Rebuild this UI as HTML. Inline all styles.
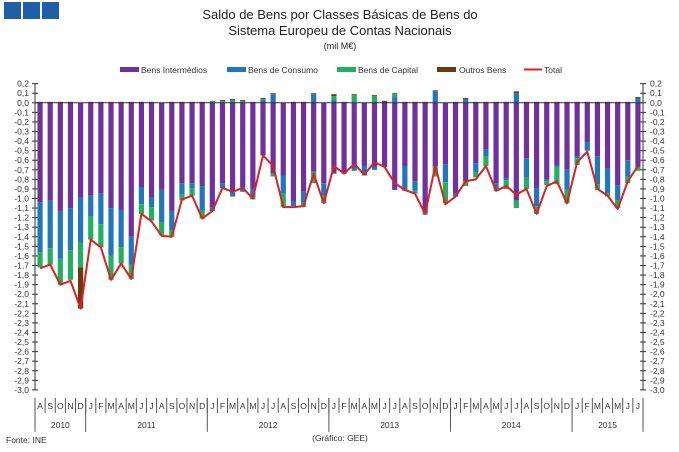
<!DOCTYPE html>
<html><head><meta charset="utf-8"><style>
body{margin:0;background:#fff;}
svg{display:block;font-family:"Liberation Sans",sans-serif;}
</style></head><body>
<svg id="c" width="679" height="452" viewBox="0 0 679 452" xmlns="http://www.w3.org/2000/svg">
<rect x="4" y="2" width="17" height="17" fill="#1f5fa8"/>
<rect x="23" y="2" width="17" height="17" fill="#1f5fa8"/>
<rect x="42" y="2" width="17" height="17" fill="#1f5fa8"/>
<text x="340" y="19" text-anchor="middle" font-size="13" fill="#222">Saldo de Bens por Classes Básicas de Bens do</text>
<text x="340" y="35" text-anchor="middle" font-size="13" fill="#222">Sistema Europeu de Contas Nacionais</text>
<text x="340" y="49" text-anchor="middle" font-size="9" fill="#222">(mil M€)</text>
<g id="legend" font-size="8.5" fill="#333">
<rect x="120" y="67" width="19" height="5" fill="#7030a0"/>
<text x="141" y="73">Bens Intermédios</text>
<rect x="227" y="67" width="19" height="5" fill="#1f77c0"/>
<text x="248" y="73">Bens de Consumo</text>
<rect x="337" y="67" width="19" height="5" fill="#20b060"/>
<text x="358" y="73">Bens de Capital</text>
<rect x="437" y="67" width="19" height="5" fill="#6b3a10"/>
<text x="459" y="73">Outros Bens</text>
<line x1="524" y1="69.5" x2="542" y2="69.5" stroke="#e02020" stroke-width="2"/>
<text x="544" y="73">Total</text>
</g>
<text x="6" y="443" font-size="8.5" fill="#333">Fonte: INE</text>
<text x="340" y="441" text-anchor="middle" font-size="8.5" fill="#333">(Gráfico: GEE)</text>
</svg>
<script>
const months=["A","S","O","N","D","J","F","M","A","M","J","J","A","S","O","N","D","J","F","M","A","M","J","J","A","S","O","N","D","J","F","M","A","M","J","J","A","S","O","N","D","J","F","M","A","M","J","J","A","S","O","N","D","J","F","M","A","M","J","J"];
const years=[["2010",5],["2011",12],["2012",12],["2013",12],["2014",12],["2015",7]];
const intermedios=[-1.04,-1.02,-1.13,-1.10,-0.99,-0.97,-0.95,-1.10,-1.12,-1.40,-0.88,-0.99,-0.91,-1.13,-0.84,-0.84,-0.87,-1.09,-0.84,-0.93,-0.88,-0.90,-0.55,-0.74,-0.76,-1.03,-0.93,-0.72,-0.84,-0.74,-0.74,-0.67,-0.66,-0.67,-0.67,-0.91,-0.66,-0.82,-1.14,-0.66,-0.64,-0.95,-0.82,-0.63,-0.49,-0.84,-0.79,-1.02,-0.58,-0.89,-0.80,-0.65,-0.70,-0.56,-0.41,-0.56,-0.69,-0.86,-0.60,-0.67];
const consumo=[-0.52,-0.50,-0.50,-0.44,-0.47,-0.22,-0.32,-0.50,-0.39,-0.29,-0.18,-0.10,-0.34,-0.20,-0.12,-0.05,-0.25,-0.04,-0.05,-0.05,-0.05,-0.08,0.03,0.09,-0.19,-0.05,-0.11,0.09,-0.13,0.03,0.00,-0.04,-0.10,-0.03,0.00,0.06,-0.24,-0.10,-0.02,0.12,-0.19,-0.03,0.04,-0.10,-0.07,-0.06,-0.02,0.10,-0.20,-0.19,-0.02,-0.02,-0.21,-0.02,-0.09,-0.29,-0.26,-0.16,-0.17,0.05];
const capital=[-0.16,-0.17,-0.27,-0.31,-0.26,-0.24,-0.24,-0.25,-0.17,-0.15,-0.10,-0.14,-0.13,-0.07,-0.06,-0.08,-0.09,0.02,0.02,0.03,0.02,-0.03,0.01,-0.03,-0.14,0.00,-0.05,-0.12,-0.08,0.04,0.00,0.08,0.00,0.07,0.00,0.03,-0.02,-0.03,-0.01,-0.11,-0.22,0.00,-0.05,-0.05,-0.10,-0.02,-0.09,-0.08,-0.12,-0.08,-0.04,-0.18,-0.14,-0.07,0.00,-0.06,-0.03,-0.08,-0.07,-0.04];
const outros=[0.01,0.01,0.01,0.01,-0.43,0.01,0.01,0.01,0.01,0.01,0.01,0.01,0.00,0.01,0.01,0.01,0.01,0.00,0.01,0.01,0.01,0.01,0.01,0.01,0.00,0.01,0.01,0.01,0.00,0.02,0.01,0.01,0.00,0.01,0.02,0.01,0.01,0.01,0.01,0.01,0.00,0.01,0.01,0.01,0.01,0.01,0.01,0.02,0.01,0.01,0.01,0.01,0.01,0.01,0.01,0.01,0.01,0.01,0.01,0.01];
const total=[-1.73,-1.69,-1.90,-1.86,-2.15,-1.43,-1.51,-1.85,-1.68,-1.84,-1.16,-1.24,-1.39,-1.40,-1.01,-0.97,-1.21,-1.13,-0.89,-0.93,-0.89,-1.00,-0.55,-0.66,-1.09,-1.09,-1.08,-0.74,-1.05,-0.66,-0.74,-0.64,-0.75,-0.62,-0.67,-0.84,-0.91,-0.95,-1.16,-0.66,-1.06,-0.98,-0.82,-0.80,-0.66,-0.92,-0.87,-0.96,-0.90,-1.16,-0.87,-0.82,-1.05,-0.62,-0.51,-0.90,-0.97,-1.11,-0.82,-0.66];
const yTicks=[0.2,0.1,0.0,-0.1,-0.2,-0.3,-0.4,-0.5,-0.6,-0.7,-0.8,-0.9,-1.0,-1.1,-1.2,-1.3,-1.4,-1.5,-1.6,-1.7,-1.8,-1.9,-2.0,-2.1,-2.2,-2.3,-2.4,-2.5,-2.6,-2.7,-2.8,-2.9,-3.0];

const NS="http://www.w3.org/2000/svg";
const svg=document.getElementById('c');
const X0=35,X1=643,Y0=102.8,PU=95.7;
const n=months.length,step=(X1-X0)/n,bw=5.2;
const y=v=>Y0-v*PU;
const xc=i=>X0+step*(i+0.5);
function mk(t,a){const e=document.createElementNS(NS,t);for(const k in a)e.setAttribute(k,a[k]);svg.appendChild(e);return e;}

let e=mk('line',{x1:X0,y1:y(0.2),x2:X0,y2:y(-3.0),stroke:'#333','stroke-width':1});


e=mk('line',{x1:X1,y1:y(0.2),x2:X1,y2:y(-3.0),stroke:'#333','stroke-width':1});


yTicks.forEach(v=>{
  const yy=y(v);const lab=v.toFixed(1).replace('.',',').replace('-0,0','0,0');
  e=mk('line',{x1:X0-3,y1:yy,x2:X0+3,y2:yy,stroke:'#333'});
  
  
  e=mk('line',{x1:X1-3,y1:yy,x2:X1+3,y2:yy,stroke:'#333'});
  
  
  e=mk('text',{x:X0-6,y:yy+3,'text-anchor':'end','font-size':8.5,fill:'#333'});e.textContent=lab;
  
  
  e=mk('text',{x:X1+7,y:yy+3,'font-size':8.5,fill:'#333'});e.textContent=lab;
  
  
});
const series=[[intermedios,'#7030a0','bar-intermedios'],[consumo,'#1f77c0','bar-consumo'],[capital,'#20b060','bar-capital'],[outros,'#6b3a10','bar-outros']];
for(let i=0;i<n;i++){
  let pos=0,neg=0;
  series.forEach(([arr,col,name])=>{
    const v=arr[i];let a,b;
    if(v>=0){a=pos;b=pos+v;pos=b;}else{a=neg;b=neg+v;neg=b;}
    const top=Math.min(y(a),y(b)),h=Math.abs(y(a)-y(b));
    const r=mk('rect',{x:xc(i)-bw/2,y:top,width:bw,height:Math.max(h,0),fill:col});
    
    
  });
}
e=mk('line',{x1:X0,y1:Y0,x2:X1,y2:Y0,stroke:'#333','stroke-width':1});


e=mk('polyline',{points:total.map((v,i)=>xc(i)+','+y(v)).join(' '),fill:'none',stroke:'#e02020','stroke-width':2,'stroke-linejoin':'round'});


const yb=y(-3.0);
for(let i=0;i<n;i++){
  e=mk('text',{x:xc(i),y:yb+19,'text-anchor':'middle','font-size':8.5,fill:'#333'});e.textContent=months[i];
  
  
  e=mk('line',{x1:X0+step*(i+1),y1:yb+8,x2:X0+step*(i+1),y2:yb+23,stroke:'#555'});
  
  
}
let acc=0;
e=mk('line',{x1:X0,y1:yb+8,x2:X0,y2:yb+42,stroke:'#555'});


years.forEach(([yr,c])=>{
  const mid=X0+step*(acc+c/2);acc+=c;
  e=mk('text',{x:mid,y:yb+38,'text-anchor':'middle','font-size':8.5,fill:'#333'});e.textContent=yr;
  
  
  e=mk('line',{x1:X0+step*acc,y1:yb+8,x2:X0+step*acc,y2:yb+42,stroke:'#555'});
  
  
});
</script>
</body></html>
